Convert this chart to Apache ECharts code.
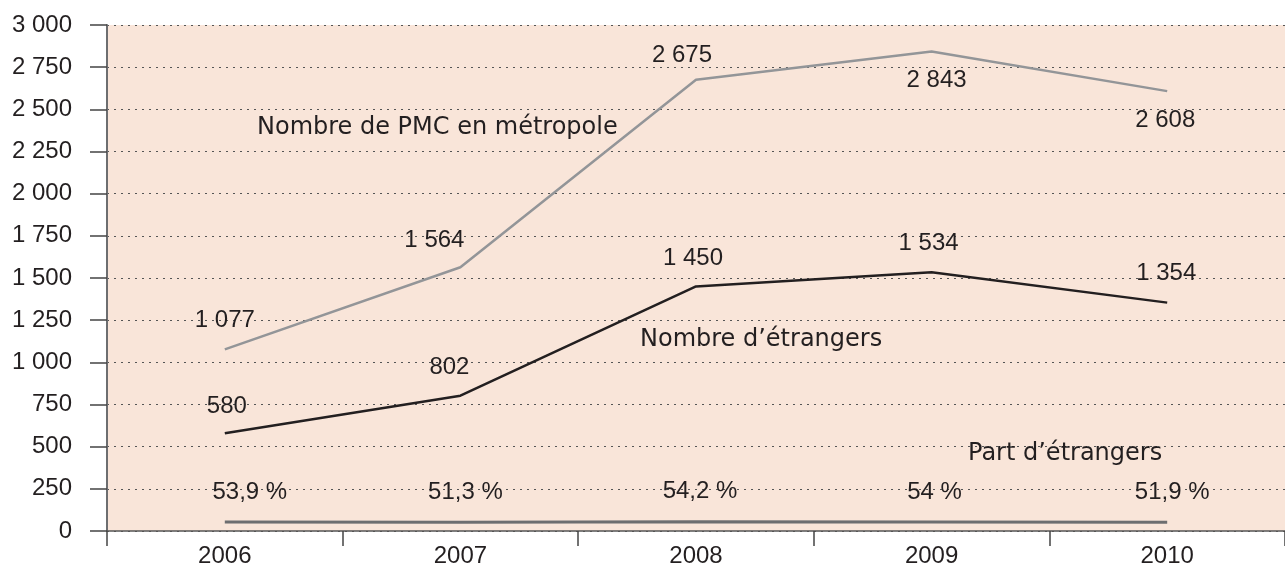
<!DOCTYPE html>
<html>
<head>
<meta charset="utf-8">
<script src="https://cdn.jsdelivr.net/npm/echarts@6/dist/echarts.min.js"></script>
<style>
  html, body { margin: 0; padding: 0; background: #fff; }
  #chart { width: 1285px; height: 572px; }
</style>
</head>
<body>
<div id="chart"></div>
<script>
// données
var years = ['2006', '2007', '2008', '2009', '2010']
var pmcMetropole = [1077, 1564, 2675, 2843, 2608]
var etrangers = [580, 802, 1450, 1534, 1354]
var partEtrangers = [53.9, 51.3, 54.2, 54, 51.9]

// décalages des étiquettes (px)
var pmcOffsets = [[0, -29], [-26, -27], [-14, -24], [5, 29], [-2, 29]]
var etrOffsets = [[2, -27], [-11, -28], [-3, -28], [-3, -29], [-1, -29]]
var partOffsets = [[25, -30], [5, -30], [4, -30], [3, -30], [5, -30]]

var NUM_FONT = 'Liberation Sans'
var TXT_FONT = 'DejaVu Sans'

function fmt(v) {
  return String(v).replace(/\B(?=(\d{3})+(?!\d))/g, ' ')
}

function withLabels(values, offsets, formatter) {
  return values.map(function (v, i) {
    return {
      value: v,
      label: { offset: offsets[i], formatter: formatter(v) }
    }
  })
}

var labelStyle = {
  show: true,
  position: 'inside',
  color: '#231f20',
  fontFamily: NUM_FONT,
  fontSize: 24
}

var hiddenDot = { color: 'transparent', borderWidth: 0 }

var chart = echarts.init(document.getElementById('chart'))
chart.setOption({
  animation: false,
  grid: {
    left: 107,
    right: -10,
    top: 25,
    bottom: 41,
    show: true,
    backgroundColor: '#f9e5d9',
    borderWidth: 0
  },
  xAxis: {
    type: 'category',
    data: years,
    boundaryGap: true,
    axisLine: { lineStyle: { color: '#555', width: 1.5 } },
    axisTick: { show: true, inside: false, length: 15, lineStyle: { color: '#444', width: 1.5 } },
    axisLabel: { color: '#231f20', fontFamily: NUM_FONT, fontSize: 24, margin: 13 },
    splitLine: { show: false }
  },
  yAxis: {
    type: 'value',
    min: 0,
    max: 3000,
    interval: 250,
    axisLine: { show: true, lineStyle: { color: '#6d6e70', width: 2 } },
    axisTick: { show: true, inside: false, length: 17, lineStyle: { color: '#444', width: 1.5 } },
    axisLabel: {
      color: '#231f20',
      fontFamily: NUM_FONT,
      fontSize: 24,
      margin: 35,
      formatter: function (v) { return fmt(v) }
    },
    splitLine: { show: true, lineStyle: { color: '#555', type: [2, 5], width: 1 } }
  },
  series: [
    {
      name: 'Nombre de PMC en métropole',
      type: 'line',
      symbol: 'circle',
      symbolSize: 2,
      itemStyle: hiddenDot,
      data: withLabels(pmcMetropole, pmcOffsets, fmt),
      lineStyle: { color: '#939598', width: 2.5 },
      label: labelStyle
    },
    {
      name: "Nombre d’étrangers",
      type: 'line',
      symbol: 'circle',
      symbolSize: 2,
      itemStyle: hiddenDot,
      data: withLabels(etrangers, etrOffsets, fmt),
      lineStyle: { color: '#231f20', width: 2.5 },
      label: labelStyle
    },
    {
      name: "Part d’étrangers",
      type: 'line',
      symbol: 'circle',
      symbolSize: 2,
      itemStyle: hiddenDot,
      data: withLabels(partEtrangers, partOffsets, function (v) {
        return String(v).replace('.', ',') + ' %'
      }),
      lineStyle: { color: '#6d6e70', width: 3 },
      label: labelStyle
    }
  ],
  graphic: [
    { type: 'text', x: 257, y: 128, style: { text: 'Nombre de PMC en métropole', fill: '#231f20', font: '24px "DejaVu Sans"', verticalAlign: 'middle' } },
    { type: 'text', x: 640, y: 340, style: { text: "Nombre d’étrangers", fill: '#231f20', font: '24px "DejaVu Sans"', verticalAlign: 'middle' } },
    { type: 'text', x: 968, y: 454, style: { text: "Part d’étrangers", fill: '#231f20', font: '24px "DejaVu Sans"', verticalAlign: 'middle' } }
  ]
})
</script>
</body>
</html>
